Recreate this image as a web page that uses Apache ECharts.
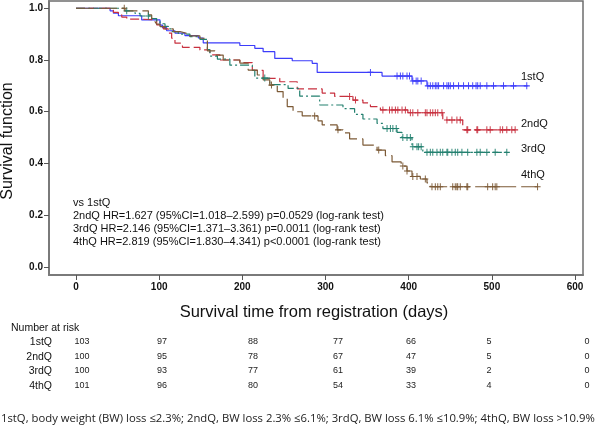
<!DOCTYPE html>
<html>
<head>
<meta charset="utf-8">
<script src="https://cdn.jsdelivr.net/npm/echarts@6/dist/echarts.min.js"></script>
<style>
html,body{margin:0;padding:0;background:#fff;}
#chart{width:598px;height:428px;}
</style>
</head>
<body>
<div id="chart"></div>
<script>
// ---------------- data ----------------
const xTickDays = [0, 100, 200, 300, 400, 500, 600];
const yTickVals = [0, 0.2, 0.4, 0.6, 0.8, 1.0];
const groupNames = ['1stQ', '2ndQ', '3rdQ', '4thQ'];

const q1Time = [0, 41, 45, 51, 79, 101, 104, 109, 119, 131, 147, 153, 197, 215, 225, 239, 260, 284, 290, 368, 404, 422, 543];
const q1Surv = [1, 0.990, 0.981, 0.971, 0.955, 0.935, 0.925, 0.913, 0.904, 0.894, 0.885, 0.866, 0.856, 0.845, 0.832, 0.806, 0.797, 0.787, 0.752, 0.738, 0.719, 0.700, 0.700];
const q1Censor = [354, 386, 390, 393, 398, 401, 405, 409, 411, 415, 423, 426, 429, 432, 434, 436, 442, 446, 448, 450, 454, 460, 466, 472, 477, 481, 483, 486, 494, 502, 514, 526, 542];

const q2Time = [0, 41, 45, 51, 55, 61, 77, 97, 105, 111, 115, 119, 128, 149, 161, 173, 197, 212, 225, 245, 266, 296, 311, 333, 345, 354, 366, 399, 441, 465, 528];
const q2Surv = [1, 0.992, 0.984, 0.975, 0.966, 0.958, 0.955, 0.936, 0.920, 0.904, 0.884, 0.865, 0.849, 0.839, 0.820, 0.800, 0.790, 0.760, 0.729, 0.716, 0.688, 0.672, 0.659, 0.645, 0.634, 0.620, 0.607, 0.596, 0.568, 0.530, 0.530];
const q2Censor = [329, 336, 369, 377, 380, 384, 387, 392, 396, 402, 405, 411, 420, 422, 426, 429, 432, 435, 440, 446, 452, 458, 462, 470, 471, 482, 483, 494, 498, 510, 513, 518, 524, 528];

const q3Time = [0, 59, 71, 77, 91, 97, 101, 107, 111, 115, 123, 137, 149, 158, 161, 170, 185, 212, 215, 233, 255, 269, 293, 321, 335, 345, 362, 369, 386, 392, 404, 417, 518];
const q3Surv = [1, 0.990, 0.980, 0.970, 0.960, 0.950, 0.940, 0.930, 0.920, 0.910, 0.900, 0.890, 0.880, 0.840, 0.815, 0.803, 0.780, 0.760, 0.730, 0.705, 0.690, 0.660, 0.626, 0.612, 0.590, 0.572, 0.555, 0.535, 0.520, 0.500, 0.465, 0.443, 0.443];
const q3Censor = [61, 87, 227, 374, 378, 381, 385, 393, 398, 402, 405, 410, 412, 415, 422, 426, 429, 434, 438, 441, 446, 447, 452, 456, 459, 464, 471, 482, 486, 494, 504, 518];

const q4Time = [0, 59, 87, 91, 95, 97, 101, 107, 117, 125, 133, 149, 158, 167, 177, 197, 207, 218, 225, 233, 242, 249, 254, 261, 272, 291, 296, 314, 321, 329, 345, 362, 372, 380, 391, 398, 404, 414, 422, 426, 555];
const q4Surv = [1, 0.990, 0.974, 0.960, 0.948, 0.939, 0.929, 0.920, 0.910, 0.903, 0.893, 0.884, 0.835, 0.819, 0.800, 0.788, 0.761, 0.742, 0.723, 0.703, 0.678, 0.653, 0.620, 0.600, 0.584, 0.565, 0.549, 0.530, 0.518, 0.495, 0.471, 0.452, 0.430, 0.406, 0.390, 0.371, 0.350, 0.340, 0.325, 0.310, 0.310];
const q4Censor = [58, 235, 287, 315, 364, 393, 398, 405, 410, 420, 428, 432, 435, 438, 453, 456, 458, 459, 462, 470, 471, 495, 501, 504, 506, 555];

const riskQ1 = [103, 97, 88, 77, 66, 5, 0];
const riskQ2 = [100, 95, 78, 67, 47, 5, 0];
const riskQ3 = [100, 93, 77, 61, 39, 2, 0];
const riskQ4 = [101, 96, 80, 54, 33, 4, 0];

const statLines = [
  'vs 1stQ',
  '2ndQ HR=1.627 (95%CI=1.018\u20132.599) p=0.0529 (log-rank test)',
  '3rdQ HR=2.146 (95%CI=1.371\u20133.361) p=0.0011 (log-rank test)',
  '4thQ HR=2.819 (95%CI=1.830\u20134.341) p<0.0001 (log-rank test)'
];
const xTitle = 'Survival time from registration (days)';
const yTitle = 'Survival function';
const riskTitle = 'Number at risk';
const caption = '1stQ, body weight (BW) loss \u22642.3%; 2ndQ, BW loss 2.3% \u22646.1%; 3rdQ, BW loss 6.1% \u226410.9%; 4thQ, BW loss >10.9%';

// ---------------- layout / style ----------------
const FONT = '"Liberation Sans", Arial, sans-serif';
const colors = ['#3d3dfa', '#c8303f', '#23806f', '#7c5a36'];
const dashes = ['solid', [9, 4], [9, 3, 2, 3], [18, 5]];
const gridL = 49, gridR = 15, gridT = 1, gridB = 153;
const XMIN = -32.46, XMAX = 609.6;
const YMIN = -0.031, YMAX = 1.028;
const riskColX = [82, 162, 253, 338, 411, 489, 587];
const riskRowY = [342, 357, 371, 386];
const endLabelY = [77, 124, 149, 175];

function survAt(T, S, t) {
  let v = S[0];
  for (let i = 0; i < T.length; i++) { if (T[i] <= t) v = S[i]; }
  return v;
}

const times = [q1Time, q2Time, q3Time, q4Time];
const survs = [q1Surv, q2Surv, q3Surv, q4Surv];
const censors = [q1Censor, q2Censor, q3Censor, q4Censor];
const risks = [riskQ1, riskQ2, riskQ3, riskQ4];

const series = [];
for (let g = 0; g < 4; g++) {
  series.push({
    type: 'line', step: 'end', showSymbol: false, silent: true, z: 3,
    data: times[g].map((t, i) => [t, survs[g][i]]),
    lineStyle: { color: colors[g], width: 1.2, type: dashes[g] },
    animation: false
  });
  series.push({
    type: 'scatter', silent: true, z: 4,
    symbol: 'path://M0,3.5L6,3.5M3,0L3,7',
    symbolSize: [6, 7],
    data: censors[g].map(t => [t, survAt(times[g], survs[g], t)]),
    itemStyle: { color: 'rgba(0,0,0,0)', borderColor: colors[g], borderWidth: 1, opacity: 1 },
    animation: false
  });
}

const graphics = [];
graphics.push({ type: 'text', x: 8, y: 141, rotation: Math.PI / 2,
  style: { text: yTitle, font: '16px ' + FONT, fill: '#111', align: 'center', verticalAlign: 'middle' } });
graphics.push({ type: 'text', x: 314, y: 312,
  style: { text: xTitle, font: '16.5px ' + FONT, fill: '#111', align: 'center', verticalAlign: 'middle' } });
statLines.forEach((s, i) => graphics.push({ type: 'text', x: 73, y: 203 + i * 13, z: 10,
  style: { text: s, font: '11px ' + FONT, fill: '#111', align: 'left', verticalAlign: 'middle' } }));
groupNames.forEach((n, i) => graphics.push({ type: 'text', x: 521, y: endLabelY[i],
  style: { text: n, font: '11px ' + FONT, fill: '#111', align: 'left', verticalAlign: 'middle' } }));
graphics.push({ type: 'text', x: 11, y: 328,
  style: { text: riskTitle, font: '10.5px ' + FONT, fill: '#111', align: 'left', verticalAlign: 'middle' } });
groupNames.forEach((n, r) => {
  graphics.push({ type: 'text', x: 52, y: riskRowY[r],
    style: { text: n, font: '10.5px ' + FONT, fill: '#111', align: 'right', verticalAlign: 'middle' } });
  risks[r].forEach((v, c) => graphics.push({ type: 'text', x: riskColX[c], y: riskRowY[r],
    style: { text: String(v), font: '9px "Liberation Sans Narrow", ' + FONT, fill: '#222', align: 'center', verticalAlign: 'middle' } }));
});
graphics.push({ type: 'text', x: 1, y: 419,
  style: { text: caption, font: '11.3px "Open Sans", sans-serif', fill: '#222', align: 'left', verticalAlign: 'middle' } });

const chart = echarts.init(document.getElementById('chart'), null, { renderer: 'canvas' });
chart.setOption({
  animation: false,
  backgroundColor: '#fff',
  grid: { left: gridL, right: gridR, top: gridT, bottom: gridB, show: true, borderColor: '#6e6e6e', borderWidth: 1.5, backgroundColor: 'transparent' },
  xAxis: {
    type: 'value', min: XMIN, max: XMAX,
    axisLine: { show: true, onZero: false, lineStyle: { color: '#7a7a7a', width: 2 } },
    axisTick: { show: true, customValues: xTickDays, length: 5, lineStyle: { color: '#555', width: 1 } },
    axisLabel: { customValues: xTickDays, fontFamily: FONT, fontSize: 10, fontWeight: 'bold', color: '#111', margin: 7 },
    splitLine: { show: false }
  },
  yAxis: {
    type: 'value', min: YMIN, max: YMAX,
    axisLine: { show: true, onZero: false, lineStyle: { color: '#7a7a7a', width: 2 } },
    axisTick: { show: true, customValues: yTickVals, length: 5, lineStyle: { color: '#555', width: 1 } },
    axisLabel: { customValues: yTickVals, fontFamily: FONT, fontSize: 10, fontWeight: 'bold', color: '#111', margin: 6,
      formatter: v => v.toFixed(1) },
    splitLine: { show: false }
  },
  series: series,
  graphic: graphics
});
</script>
</body>
</html>
